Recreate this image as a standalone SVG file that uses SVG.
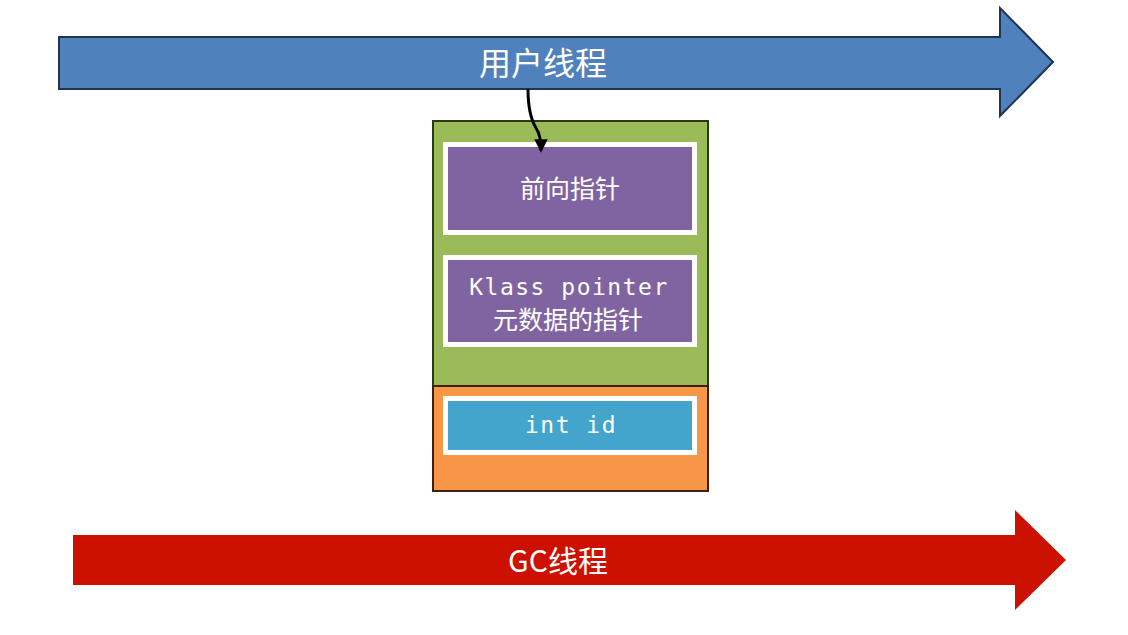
<svg xmlns="http://www.w3.org/2000/svg" width="1128" height="635" viewBox="0 0 1128 635">
<defs>
<style>
.cjk{font-family:"Noto Sans CJK SC","Noto Sans",sans-serif;fill:#fff;text-anchor:middle;dominant-baseline:central}
.mono{font-family:"DejaVu Sans Mono","Liberation Mono",monospace;fill:#fff;text-anchor:middle;dominant-baseline:central;font-size:23px;letter-spacing:1.5px}
.field{stroke:#fff;stroke-width:5}
</style>
<marker id="ah" viewBox="0 0 10 10" refX="8" refY="5" markerWidth="4.5" markerHeight="4.5" orient="auto">
<path d="M0,0 L10,5 L0,10 z" fill="#000"/>
</marker>
</defs>
<rect width="1128" height="635" fill="#fff"/>
<g id="user-thread">
<path d="M59,37 H1000 V8 L1053,62 L1000,116 V89 H59 Z" fill="#4F81BD" stroke="#1F3550" stroke-width="2"/>
<text class="cjk" x="543" y="61" font-size="32">用户线程</text>
</g>
<g id="gc-thread">
<path d="M73,535 H1015 V510 L1066,560 L1015,610 V585 H73 Z" fill="#CC1100"/>
<text class="cjk" x="558" y="559" font-size="30">GC线程</text>
</g>
<g id="object">
<rect x="433" y="121" width="275" height="265" fill="#9BBB59" stroke="#2B3A12" stroke-width="2"/>
<rect x="433" y="386" width="275" height="105" fill="#F79646" stroke="#3E2010" stroke-width="2"/>
</g>
<g id="forward-pointer">
<rect class="field" x="445.5" y="144.5" width="249" height="88" fill="#8064A2"/>
<text class="cjk" x="570" y="187" font-size="25">前向指针</text>
</g>
<g id="klass-pointer">
<rect class="field" x="445.5" y="257.5" width="249" height="87" fill="#8064A2"/>
<text class="mono" x="569" y="287">Klass pointer</text>
<text class="cjk" x="568" y="318" font-size="25">元数据的指针</text>
</g>
<g id="int-id">
<rect class="field" x="445.5" y="398.5" width="249" height="54" fill="#43A5CC"/>
<text class="mono" x="571" y="425">int id</text>
</g>
<g id="connectors">
<path d="M528,89 C528,105 530,118 536,128 C540,134 541,140 541,150" fill="none" stroke="#000" stroke-width="3" marker-end="url(#ah)"/>
</g>
</svg>
